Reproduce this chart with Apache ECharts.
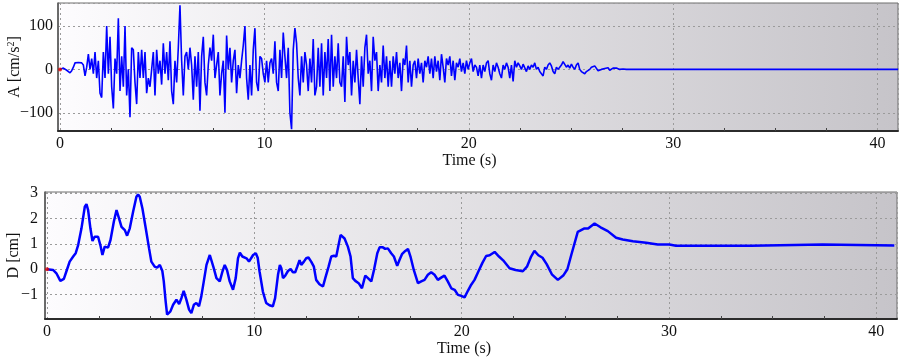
<!DOCTYPE html>
<html>
<head>
<meta charset="utf-8">
<title>Acceleration and displacement</title>
<script src="https://cdn.jsdelivr.net/npm/echarts@6.0.0/dist/echarts.min.js"></script>
<style>
    html, body { margin: 0; padding: 0; background: #fff; }
    #chart { width: 903px; height: 358px; }
</style>
</head>
<body>
<div id="chart"></div>
<script>
// acceleration record, cm/s2, one value every accStep seconds
var accStep = 0.0815;
var accValues = [
    0, 2, 3, 0, -2, -5, -8, -3, 5, 15, 17, 16, 12, 15, 10, -15, 5, 35, 0, 25,
    -10, 40, -20, 20, -55, -65, 40, -20, 100, -10, 75, -40, -90, 25, -10, 118, -50, 30, -40, 100,
    -60, 0, -110, 50, 45, -30, -80, 40, -20, 45, -20, 40, -55, -20, -40, 0, 40, -60, 45, -10,
    20, -35, 60, -10, 40, -25, 65, -50, -80, 20, -30, 50, 148, 20, -60, 30, 40, 0, 50, 10,
    -70, 30, -40, 40, -95,
    30, 75, -30, -60, 10, 50, 20, 80, -20, 10, 40, -60, -10, 20, -100, 78, 0, 50, -30, 20,
    45, -55, 10, -20, 20, 55, 100, -20, -70, 10, -60, 45, 95, -30, -50, 30, 25, -10, -30, 20,
    -30, 15, 25, -10, 65, -30, -50, 45, -20, 85, 30, -20, 50, -100, -138, 45, 95, 60, -20, -60,
    30, -30, 40, 10, -50, 25, -30, 70, -60, -40, 50, -40, 60, -60, 40, -20, 70, -50, 80, -40,
    30, -20, 60, -30,
    -40, 30, -75, 75, 10, 40, -60, 20, -30, 45, -20, -80, 30, -40, 50, 80, -10, 20, -50, 75,
    20, 40, -50, 10, -30, 55, -20, 30, -40, 20, -40, 30, -10, 40, -20, 15, -50, 25, 10, 55,
    -30, 20, -40, 10, 20, -20, 25, -10, 15, -30, 20, 5, 30, -10, 25, -20, 30, -5, 20, -25,
    35, 5, -30, 25, 10, 30, -15, 20, -25, 15, 5, 25, -5, 15, -10, 20, 0, 15, 25, -5,
    10, 5, -15, 10,
    -20, 10, -5, 15, 20, -10, -25, 10, -5, 15, 5, -10, -20, 10, 0, 15, 5, -20, 10, -28,
    20, 5, 15, 8, 0, 12, 15, -5, 8, 0, 10, 5, 15, 0, 5, -5, -10, -15, 5, 0,
    10, 15, 8, -5, -10, 5, 0, 5, 10, 18, 20, 5, 10, 3, 12, 5, 0, 10, 15, 0,
    -5, -8, -10, -5, -8, 0, 5, 3, 8, 5, -3, -5, 0, -2, 2, 0, 4, -2, 2, 3,
    1, 3, 2, 0, 2, 1, 3, 0, 0
];
var recordEnd = 41;

// displacement, cm
var dispTimes = [
    0.00, 0.29, 0.45, 0.64, 0.81, 0.93, 1.09, 1.26, 1.38, 1.50, 1.66, 1.82, 1.90, 1.98, 2.09, 2.19,
    2.30, 2.46, 2.57, 2.67, 2.78, 2.94, 3.06, 3.22, 3.35, 3.47, 3.59, 3.75, 3.86, 3.99, 4.15, 4.31,
    4.39, 4.47, 4.60, 4.76, 4.92, 5.03, 5.19, 5.31, 5.44, 5.56, 5.63, 5.72, 5.79, 5.84, 5.95, 6.08,
    6.24, 6.37, 6.48, 6.59, 6.72, 6.85, 6.96, 7.08, 7.20, 7.33, 7.44, 7.56, 7.69, 7.85, 7.93, 8.04,
    8.17, 8.33, 8.46, 8.57, 8.68, 8.81, 8.97, 9.10, 9.21, 9.30, 9.42, 9.49, 9.62, 9.74, 9.94, 10.07,
    10.16, 10.25, 10.41, 10.57, 10.73, 10.89, 11.00, 11.14, 11.23, 11.30, 11.38, 11.49, 11.62, 11.75, 11.86, 11.97,
    12.07, 12.18, 12.26, 12.39, 12.50, 12.61, 12.74, 12.87, 12.98, 13.14, 13.31, 13.42, 13.58, 13.71, 13.84, 13.95,
    14.06, 14.16, 14.22, 14.35, 14.51, 14.64, 14.75, 14.87, 15.03, 15.19, 15.35, 15.48, 15.64, 15.77, 15.93, 16.04,
    16.20, 16.31, 16.44, 16.60, 16.73, 16.89, 17.00, 17.12, 17.28, 17.41, 17.53, 17.69, 17.89, 18.05, 18.21, 18.37,
    18.53, 18.69, 18.85, 19.01, 19.17, 19.33, 19.50, 19.66, 19.82, 19.98, 20.14, 20.30, 20.46, 20.62, 20.80, 21.00,
    21.18, 21.35, 21.59, 21.80, 22.00, 22.31, 22.60, 22.95, 23.15, 23.35, 23.51, 23.70, 23.90, 24.10, 24.35, 24.64,
    24.90, 25.10, 25.30, 25.60, 25.90, 26.10, 26.41, 26.70, 27.05, 27.45, 27.77, 28.26, 28.90, 29.46, 30.02, 30.34,
    33.96, 34.00, 36.05, 36.13, 37.41, 37.50, 40.87
];
var dispValues = [
    0, -0.03, -0.16, -0.46, -0.38, -0.09, 0.30, 0.50, 0.63, 0.95, 1.61, 2.46, 2.56, 2.33, 1.61, 1.11,
    1.28, 1.28, 0.95, 0.56, 0.89, 0.85, 1.15, 1.87, 2.33, 2.00, 1.67, 1.54, 1.32, 1.61, 2.26, 2.85,
    2.94, 2.85, 2.39, 1.61, 0.82, 0.30, 0.10, 0.06, 0.17, -0.07, -0.48, -1.27, -1.79, -1.86, -1.66, -1.40,
    -1.20, -1.37, -1.14, -0.85, -1.20, -1.59, -1.73, -1.40, -1.33, -1.46, -1.07, -0.48, 0.17, 0.56, 0.50, 0.04,
    -0.35, -0.48, -0.09, 0.17, -0.03, -0.48, -0.81, -0.35, 0.43, 0.65, 0.50, 0.56, 0.43, 0.30, 0.56, 0.63,
    0.45, -0.09, -0.88, -1.33, -1.42, -1.46, -1.14, -0.22, 0.17, 0.04, -0.35, -0.25, -0.07, 0.01, -0.12, -0.12,
    0.10, 0.36, 0.17, 0.30, 0.43, 0.46, 0.30, 0.10, -0.42, -0.59, -0.68, -0.35, 0.10, 0.50, 0.53, 0.50,
    0.95, 1.35, 1.35, 1.21, 0.89, 0.50, -0.35, -0.46, -0.55, -0.75, -0.25, -0.35, -0.48, -0.03, 0.63, 0.86,
    0.86, 0.80, 0.82, 0.63, 0.50, 0.13, 0.36, 0.59, 0.72, 0.80, 0.50, -0.03, -0.55, -0.48, -0.42, -0.22,
    -0.12, -0.22, -0.42, -0.33, -0.25, -0.48, -0.75, -0.81, -1.01, -1.05, -1.11, -0.85, -0.61, -0.42, -0.10, 0.25,
    0.52, 0.55, 0.68, 0.50, 0.35, 0.04, -0.03, -0.08, 0.10, 0.50, 0.72, 0.55, 0.45, 0.20, -0.20, -0.42,
    -0.25, 0.00, 0.60, 1.47, 1.60, 1.60, 1.80, 1.65, 1.50, 1.24, 1.17, 1.10, 1.04, 0.97, 0.97, 0.92,
    0.92, 0.95, 0.95, 0.97, 0.97, 0.93, 0.93
];

// tick labels
var timeTicks = [0, 10, 20, 30, 40];
var timeMinorTicks = [2.5, 5, 7.5, 12.5, 15, 17.5, 22.5, 25, 27.5, 32.5, 35, 37.5];
var accTicks = [-100, 0, 100];
var dispTicks = [-1, 0, 1, 2, 3];

var serif = "'Liberation Serif', 'Times New Roman', serif";
var textColor = '#111';

var accData = accValues.map(function (v, i) {
    return [+(i * accStep).toFixed(4), v];
});
accData.push([recordEnd, accValues[accValues.length - 1]]);
var dispData = dispTimes.map(function (t, i) {
    return [t, dispValues[i]];
});

function pickLabel(ticks) {
    return function (v) {
        for (var i = 0; i < ticks.length; i++) {
            if (Math.abs(ticks[i] - v) < 1e-6) {
                return String(ticks[i]).replace('-', '\u2212');
            }
        }
        return '';
    };
}

function plotBackground() {
    return new echarts.graphic.LinearGradient(0, 0, 1, 0, [
        { offset: 0, color: '#fdfcfe' },
        { offset: 1, color: '#c6c4c9' }
    ]);
}

function timeAxis(grid, nameShift) {
    return {
        gridIndex: grid,
        type: 'value',
        min: -0.1,
        max: 41,
        minInterval: 10,
        maxInterval: 10,
        name: 'Time (s)',
        nameLocation: 'middle',
        nameGap: 19,
        nameTextStyle: { fontFamily: serif, fontSize: 16, color: textColor, padding: [0, nameShift, 0, 0] },
        axisLine: { show: true, onZero: false, lineStyle: { color: '#2b2b2b', width: 2 } },
        axisTick: { show: false },
        axisLabel: {
            margin: 5, fontFamily: serif, fontSize: 16, color: textColor,
            showMinLabel: false, showMaxLabel: false, formatter: pickLabel(timeTicks)
        },
        splitLine: { show: true, lineStyle: { type: [2, 3], color: '#9b9b9b', width: 1 } }
    };
}

// second axis on the same grid, only for the small inner ticks
function minorAxis(grid) {
    return {
        gridIndex: grid,
        type: 'value',
        min: -0.1,
        max: 41,
        position: 'bottom',
        axisLine: { show: false, onZero: false },
        axisLabel: { show: false },
        splitLine: { show: false },
        axisTick: { show: true, inside: true, length: 3, customValues: timeMinorTicks, lineStyle: { color: '#444' } }
    };
}

var chart = echarts.init(document.getElementById('chart'));
var option = {
    animation: false,
    grid: [
        {
            left: 58, right: 5, top: 3, height: 128, containLabel: false, outerBoundsMode: 'none',
            show: true, backgroundColor: plotBackground(), borderColor: '#6e6e6e', borderWidth: 1
        },
        {
            left: 45, right: 6, top: 192, height: 127, containLabel: false, outerBoundsMode: 'none',
            show: true, backgroundColor: plotBackground(), borderColor: '#6e6e6e', borderWidth: 1
        }
    ],
    xAxis: [timeAxis(0, 17), minorAxis(0), timeAxis(1, 14), minorAxis(1)],
    yAxis: [{
        gridIndex: 0,
        type: 'value',
        min: -142,
        max: 153,
        minInterval: 100,
        maxInterval: 100,
        name: 'A [cm/s{sup|2}]',
        nameLocation: 'middle',
        nameGap: 34,
        nameMoveOverlap: false,
        nameTextStyle: {
            fontFamily: serif, fontSize: 16, color: textColor, lineHeight: 18,
            rich: { sup: { fontFamily: serif, fontSize: 10, color: textColor, verticalAlign: 'top', lineHeight: 12 } }
        },
        axisLine: { show: true, onZero: false, lineStyle: { color: '#555', width: 1.5 } },
        axisTick: { show: false },
        axisLabel: {
            margin: 5, fontFamily: serif, fontSize: 16, color: textColor,
            showMinLabel: false, showMaxLabel: false, formatter: pickLabel(accTicks)
        },
        splitLine: { show: true, lineStyle: { type: [2, 3], color: '#9b9b9b', width: 1 } }
    }, {
        gridIndex: 1,
        type: 'value',
        min: -1.96,
        max: 3.04,
        minInterval: 1,
        maxInterval: 1,
        name: 'D [cm]',
        nameLocation: 'middle',
        nameGap: 23,
        nameMoveOverlap: false,
        nameTextStyle: { fontFamily: serif, fontSize: 16, color: textColor },
        axisLine: { show: true, onZero: false, lineStyle: { color: '#555', width: 1.5 } },
        axisTick: { show: false },
        axisLabel: {
            margin: 7, fontFamily: serif, fontSize: 16, color: textColor,
            showMinLabel: false, showMaxLabel: false, formatter: pickLabel(dispTicks)
        },
        splitLine: { show: true, lineStyle: { type: [2, 3], color: '#9b9b9b', width: 1 } }
    }],
    series: [{
        type: 'line',
        xAxisIndex: 0,
        yAxisIndex: 0,
        data: accData,
        showSymbol: false,
        lineStyle: { color: '#0000ff', width: 1.6 },
        z: 3
    }, {
        type: 'scatter',
        xAxisIndex: 0,
        yAxisIndex: 0,
        data: [accData[0]],
        symbolSize: 4,
        itemStyle: { color: '#e00000' },
        z: 4
    }, {
        type: 'line',
        xAxisIndex: 2,
        yAxisIndex: 1,
        data: dispData,
        showSymbol: false,
        lineStyle: { color: '#0000ff', width: 2.5 },
        z: 3
    }, {
        type: 'scatter',
        xAxisIndex: 2,
        yAxisIndex: 1,
        data: [dispData[0]],
        symbolSize: 4,
        itemStyle: { color: '#e00000' },
        z: 4
    }]
};
chart.setOption(option);
</script>
</body>
</html>
